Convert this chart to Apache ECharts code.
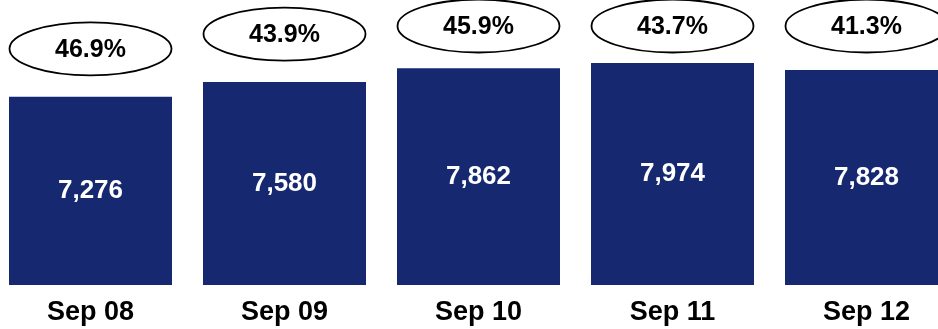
<!DOCTYPE html>
<html>
<head>
<meta charset="utf-8">
<script src="https://cdn.jsdelivr.net/npm/echarts@6/dist/echarts.min.js"></script>
<style>
  html, body { margin: 0; padding: 0; background: #fff; }
  #chart { width: 938px; height: 329px; }
</style>
</head>
<body>
<div id="chart"></div>
<script>
// Monthly totals with the share shown in the bubble above each bar
const categories = ['Sep 08', 'Sep 09', 'Sep 10', 'Sep 11', 'Sep 12'];
const totals = [7276, 7580, 7862, 7974, 7828];
const shares = [46.9, 43.9, 45.9, 43.7, 41.3];

const FONT = '"Liberation Sans", Arial, sans-serif';
const NAVY = '#16286f';

const chart = echarts.init(document.getElementById('chart'), null, { renderer: 'canvas' });

chart.setOption({
  animation: false,
  grid: {
    left: -6.5, width: 970, top: 0, bottom: 44,
    containLabel: false,
    outerBoundsMode: 'none'
  },
  xAxis: {
    type: 'category',
    data: categories,
    axisLine: { show: false },
    axisTick: { show: false },
    axisLabel: {
      color: '#000',
      fontFamily: FONT,
      fontWeight: 'bold',
      fontSize: 27,
      margin: 14
    }
  },
  yAxis: {
    type: 'value',
    min: 3400,
    max: 9270,
    show: false,
    splitLine: { show: false }
  },
  series: [
    {
      type: 'bar',
      data: totals,
      barWidth: 163,
      itemStyle: { color: NAVY },
      label: {
        show: true,
        position: 'inside',
        color: '#fff',
        fontFamily: FONT,
        fontWeight: 'bold',
        fontSize: 26,
        formatter: p => p.value.toLocaleString('en-US')
      }
    },
    {
      // Oval callouts sitting above each bar, kept inside the top edge
      type: 'custom',
      data: totals.map((v, i) => [i, v, shares[i]]),
      encode: { x: 0, y: 1 },
      clip: false,
      renderItem: (params, api) => {
        const top = api.coord([api.value(0), api.value(1)]);
        const cy = Math.max(top[1] - 48, 26);
        const label = api.value(2).toFixed(1) + '%';
        return {
          type: 'group',
          children: [
            {
              type: 'ellipse',
              shape: { cx: top[0], cy: cy, rx: 81, ry: 26.5 },
              style: { fill: '#fff', stroke: '#000', lineWidth: 1.8 }
            },
            {
              type: 'text',
              style: {
                text: label,
                x: top[0],
                y: cy + 1,
                align: 'center',
                verticalAlign: 'middle',
                font: 'bold 25px ' + FONT,
                fill: '#000'
              }
            }
          ]
        };
      }
    }
  ]
});
</script>
</body>
</html>
